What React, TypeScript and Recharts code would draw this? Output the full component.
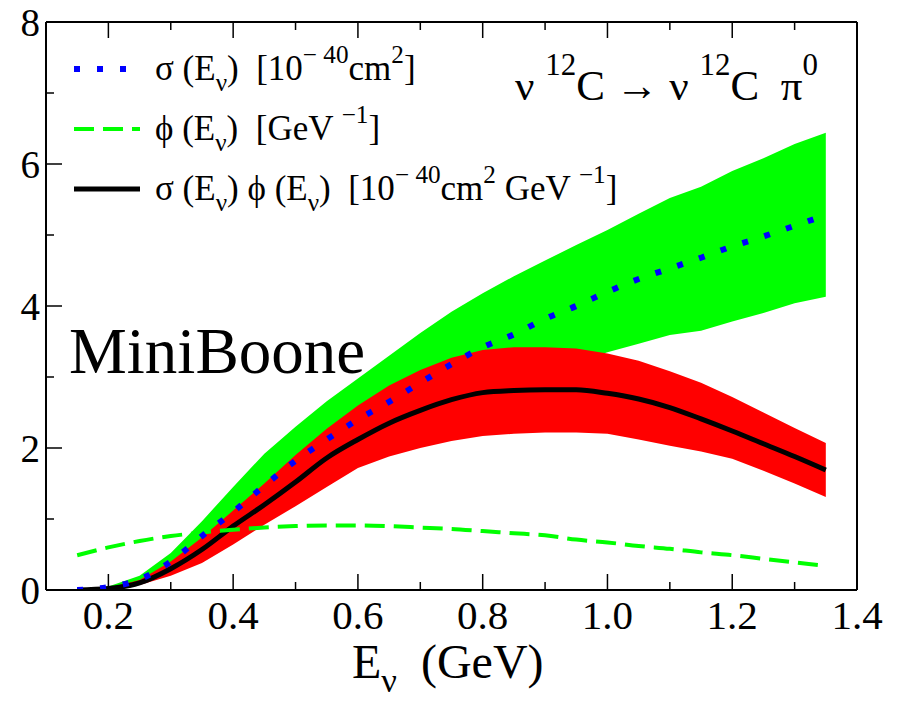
import React from 'react';
import { ComposedChart, Area, Line, XAxis, YAxis } from 'recharts';

// neutrino energy grid (GeV)
const energy = [0.15, 0.2, 0.25, 0.3, 0.35, 0.4, 0.45, 0.5, 0.55, 0.6, 0.65, 0.7, 0.75, 0.8, 0.85, 0.9, 0.95, 1.0, 1.05, 1.1, 1.15, 1.2, 1.25, 1.3, 1.35];

// sigma(E) [1e-40 cm^2] with its band
const crossSection = [0, 0.04, 0.15, 0.4, 0.76, 1.1, 1.47, 1.82, 2.12, 2.4, 2.65, 2.92, 3.18, 3.42, 3.6, 3.82, 4.0, 4.2, 4.38, 4.53, 4.68, 4.84, 4.98, 5.13, 5.28];
const crossSectionHigh = [0, 0.05, 0.2, 0.52, 0.97, 1.45, 1.92, 2.3, 2.66, 2.98, 3.3, 3.62, 3.92, 4.18, 4.42, 4.64, 4.86, 5.07, 5.3, 5.52, 5.68, 5.9, 6.08, 6.28, 6.44];
const crossSectionLow = [0, 0.03, 0.12, 0.32, 0.6, 0.87, 1.16, 1.44, 1.68, 1.9, 2.1, 2.31, 2.52, 2.72, 2.9, 3.05, 3.2, 3.35, 3.47, 3.59, 3.65, 3.78, 3.9, 4.04, 4.13];

// phi(E) [GeV^-1]
const flux = [0.49, 0.6, 0.69, 0.76, 0.81, 0.85, 0.88, 0.9, 0.91, 0.91, 0.9, 0.88, 0.86, 0.83, 0.8, 0.77, 0.71, 0.67, 0.62, 0.58, 0.53, 0.49, 0.44, 0.39, 0.34];

// sigma(E) * phi(E) with its band
const rate = [0, 0.02, 0.1, 0.3, 0.57, 0.9, 1.2, 1.52, 1.86, 2.12, 2.35, 2.53, 2.68, 2.78, 2.81, 2.82, 2.82, 2.77, 2.69, 2.57, 2.41, 2.24, 2.06, 1.88, 1.69];
const rateHigh = [0, 0.03, 0.14, 0.4, 0.74, 1.12, 1.5, 1.9, 2.27, 2.6, 2.88, 3.1, 3.27, 3.38, 3.42, 3.42, 3.4, 3.33, 3.23, 3.08, 2.92, 2.72, 2.5, 2.28, 2.07];
const rateLow = [0, 0.01, 0.07, 0.2, 0.38, 0.64, 0.92, 1.18, 1.45, 1.72, 1.88, 2.0, 2.1, 2.17, 2.2, 2.22, 2.22, 2.2, 2.12, 2.03, 1.95, 1.85, 1.68, 1.5, 1.31];

const xTicks = [0.2, 0.3, 0.4, 0.5, 0.6, 0.7, 0.8, 0.9, 1.0, 1.1, 1.2, 1.3, 1.4];
const yTicks = [0, 1, 2, 3, 4, 5, 6, 7, 8];

const W = 901;
const H = 701;
const PLOT_LEFT = 46;
const PLOT_RIGHT = 857;
const PLOT_TOP = 22;
const PLOT_BOTTOM = 590;
const MAJOR = 16;
const MINOR = 8;
const FONT = '"Liberation Serif", "Times New Roman", serif';
const serif = { fontFamily: FONT };

const data = energy.map((e, i) => ({
  e,
  sigma: crossSection[i],
  sigmaBand: [crossSectionLow[i], crossSectionHigh[i]],
  flux: flux[i],
  rate: rate[i],
  rateBand: [rateLow[i], rateHigh[i]],
}));

const isMajorX = (v: number) => Math.round(v * 10) % 2 === 0;
const isMajorY = (v: number) => Math.round(v) % 2 === 0;

const BottomTick = ({ x, payload }: any) => {
  const v = payload.value as number;
  const major = isMajorX(v);
  return (
    <g>
      <line x1={x} x2={x} y1={PLOT_BOTTOM} y2={PLOT_BOTTOM - (major ? MAJOR : MINOR)} stroke="#000" strokeWidth={1.5} />
      {major && (
        <text x={x} y={PLOT_BOTTOM + 39} textAnchor="middle" fontSize={41} fill="#000" style={serif}>
          {v.toFixed(1)}
        </text>
      )}
    </g>
  );
};

const TopTick = ({ x, payload }: any) => {
  const major = isMajorX(payload.value);
  return <line x1={x} x2={x} y1={PLOT_TOP} y2={PLOT_TOP + (major ? MAJOR : MINOR)} stroke="#000" strokeWidth={1.5} />;
};

const LeftTick = ({ y, payload }: any) => {
  const v = payload.value as number;
  const major = isMajorY(v);
  return (
    <g>
      <line x1={PLOT_LEFT} x2={PLOT_LEFT + (major ? MAJOR : MINOR)} y1={y} y2={y} stroke="#000" strokeWidth={1.5} />
      {major && (
        <text x={PLOT_LEFT - 6} y={y + 14} textAnchor="end" fontSize={39} fill="#000" style={serif}>
          {v}
        </text>
      )}
    </g>
  );
};

const RightTick = ({ y, payload }: any) => {
  const major = isMajorY(payload.value);
  return <line x1={PLOT_RIGHT} x2={PLOT_RIGHT - (major ? MAJOR : MINOR)} y1={y} y2={y} stroke="#000" strokeWidth={1.5} />;
};

type Seg = [string, ('sub' | 'sup')?];

// text with sub/superscripts, offsets tracked so each tspan returns to the baseline
function RichText({ x, y, size, segs, raise = 0.45 }: { x: number; y: number; size: number; segs: Seg[]; raise?: number }) {
  let off = 0;
  return (
    <text x={x} y={y} fontSize={size} fill="#000" style={{ ...serif, whiteSpace: 'pre' }}>
      {segs.map(([t, kind], i) => {
        const target = kind === 'sub' ? size * 0.3 : kind === 'sup' ? -size * raise : 0;
        const dy = target - off;
        off = target;
        return (
          <tspan key={i} dy={dy} fontSize={kind ? size * 0.72 : size}>
            {t}
          </tspan>
        );
      })}
    </text>
  );
}

const LEG_FONT = 35;
const legendRows: { y: number; stroke: string; width: number; dash?: string; segs: Seg[] }[] = [
  {
    y: 69,
    stroke: '#0000ff',
    width: 6,
    dash: '6 17',
    segs: [['σ (E'], ['ν', 'sub'], [')  [10'], ['− 40', 'sup'], ['cm'], ['2', 'sup'], [']']],
  },
  {
    y: 129,
    stroke: '#00ff00',
    width: 4,
    dash: '20 9',
    segs: [['ϕ (E'], ['ν', 'sub'], [')  [GeV '], ['−1', 'sup'], [']']],
  },
  {
    y: 189,
    stroke: '#000000',
    width: 5,
    segs: [
      ['σ (E'], ['ν', 'sub'], [') ϕ (E'], ['ν', 'sub'], [')  [10'], ['− 40', 'sup'], ['cm'], ['2', 'sup'], [' GeV '], ['−1', 'sup'], [']'],
    ],
  },
];

const axisLine = { stroke: '#000', strokeWidth: 2 };

export default function App() {
  return (
    <div style={{ position: 'relative', width: W, height: H, background: '#fff' }}>
      <style>{'body { margin: 0; }'}</style>
      <ComposedChart
        width={W}
        height={H}
        data={data}
        margin={{ top: PLOT_TOP - 1, right: W - PLOT_RIGHT - 1, bottom: H - PLOT_BOTTOM - 1, left: PLOT_LEFT - 1 }}
      >
        <XAxis
          type="number"
          dataKey="e"
          domain={[0.1, 1.4]}
          ticks={xTicks}
          interval={0}
          height={1}
          tickLine={false}
          tick={<BottomTick />}
          axisLine={axisLine}
          allowDataOverflow
        />
        <XAxis
          xAxisId="top"
          orientation="top"
          type="number"
          dataKey="e"
          domain={[0.1, 1.4]}
          ticks={xTicks}
          interval={0}
          height={1}
          tickLine={false}
          tick={<TopTick />}
          axisLine={axisLine}
        />
        <YAxis
          type="number"
          domain={[0, 8]}
          ticks={yTicks}
          interval={0}
          width={1}
          tickLine={false}
          tick={<LeftTick />}
          axisLine={axisLine}
          allowDataOverflow
        />
        <YAxis
          yAxisId="right"
          orientation="right"
          type="number"
          domain={[0, 8]}
          ticks={yTicks}
          interval={0}
          width={1}
          tickLine={false}
          tick={<RightTick />}
          axisLine={axisLine}
        />

        <Area dataKey="sigmaBand" type="linear" fill="#00ff00" fillOpacity={1} stroke="none" isAnimationActive={false} />
        <Area dataKey="rateBand" type="linear" fill="#ff0000" fillOpacity={1} stroke="none" isAnimationActive={false} />
        <Line dataKey="rate" type="monotone" stroke="#000" strokeWidth={5} dot={false} isAnimationActive={false} />
        <Line dataKey="flux" type="monotone" stroke="#00ff00" strokeWidth={4} strokeDasharray="20 9" dot={false} isAnimationActive={false} />
        <Line dataKey="sigma" type="monotone" stroke="#0000ff" strokeWidth={6} strokeDasharray="6 17" dot={false} isAnimationActive={false} />
      </ComposedChart>

      <svg width={W} height={H} style={{ position: 'absolute', left: 0, top: 0, pointerEvents: 'none' }}>
        {legendRows.map((r, i) => (
          <g key={i}>
            <line x1={74} x2={140} y1={r.y} y2={r.y} stroke={r.stroke} strokeWidth={r.width} strokeDasharray={r.dash} />
            <RichText x={155} y={r.y + 11} size={LEG_FONT} segs={r.segs} raise={0.5} />
          </g>
        ))}

        <RichText
          x={515}
          y={100}
          size={43}
          raise={0.58}
          segs={[['ν '], ['12', 'sup'], ['C → ν '], ['12', 'sup'], ['C  π'], ['0', 'sup']]}
        />

        <text x={69} y={373} fontSize={65} fill="#000" style={serif}>
          MiniBoone
        </text>

        <RichText x={352} y={678} size={48} segs={[['E'], ['ν', 'sub'], ['  (GeV)']]} />
      </svg>
    </div>
  );
}
